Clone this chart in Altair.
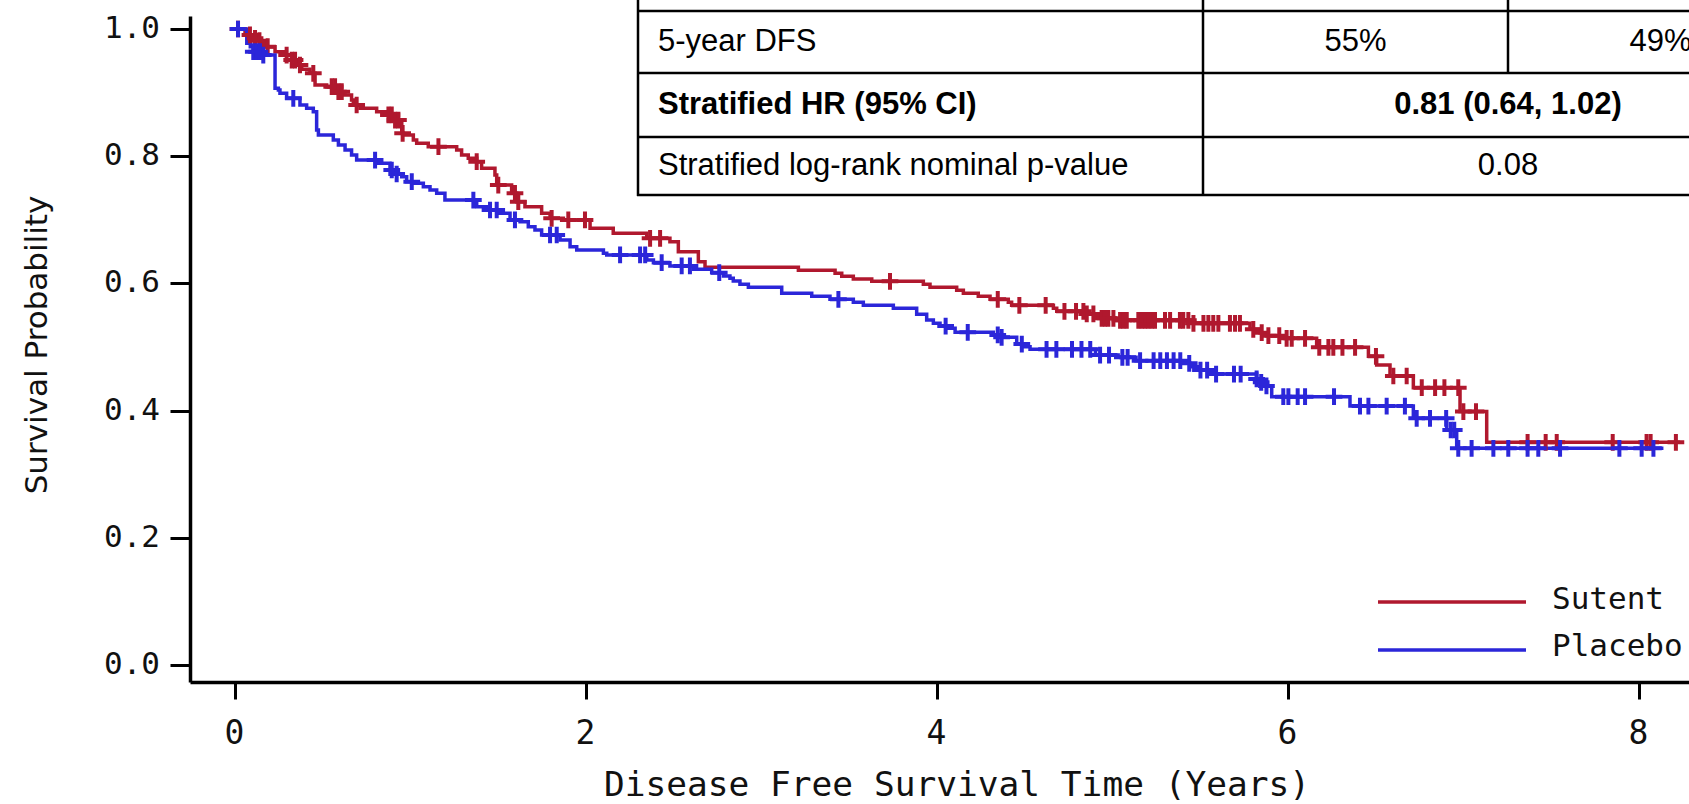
import altair as alt
import pandas as pd
import numpy as np

# ---------------- data ----------------
series_names = ["Sutent", "Placebo"]
series_colors = ["#B0182E", "#2B26D9"]

sutent_time = [0.0, 0.060, 0.107, 0.125, 0.145, 0.185, 0.231, 0.288, 0.326, 0.354,
               0.383, 0.430, 0.459, 0.525, 0.582, 0.620, 0.667, 0.677, 0.715, 0.810,
               0.867, 0.905, 0.953, 0.962, 1.019, 1.038, 1.104, 1.266, 1.294, 1.332,
               1.380, 1.408, 1.484, 1.494, 1.579, 1.608, 1.655, 1.750, 1.798, 1.874,
               2.026, 2.158, 2.349, 2.481, 2.529, 2.643, 2.681, 3.213, 3.422, 3.460,
               3.526, 3.631, 3.925, 3.963, 4.115, 4.153, 4.238, 4.305, 4.409, 4.428,
               4.666, 4.685, 4.856, 4.913, 4.932, 5.017, 5.463, 5.786, 5.843, 5.881,
               5.957, 6.166, 6.461, 6.508, 6.584, 6.717, 6.983, 7.135, 8.237]
sutent_surv = [1.0, 0.9906, 0.9853, 0.9817, 0.9775, 0.9722, 0.9643, 0.9591, 0.9512, 0.9434,
               0.9366, 0.9303, 0.9119, 0.9093, 0.9015, 0.8962, 0.8884, 0.8805, 0.8753, 0.8700,
               0.8648, 0.8569, 0.8359, 0.8333, 0.8255, 0.8202, 0.8150, 0.8097, 0.8019, 0.7966,
               0.7914, 0.7809, 0.7704, 0.7547, 0.7416, 0.7285, 0.7206, 0.7102, 0.7023, 0.6997,
               0.6866, 0.6787, 0.6709, 0.6656, 0.6499, 0.6342, 0.6253, 0.6205, 0.6158, 0.6111,
               0.6069, 0.6033, 0.5986, 0.5939, 0.5892, 0.5845, 0.5797, 0.5750, 0.5703, 0.5656,
               0.5608, 0.5561, 0.5519, 0.5487, 0.5451, 0.5419, 0.5372, 0.5278, 0.5225, 0.5178,
               0.5136, 0.4995, 0.4853, 0.4717, 0.4544, 0.4361, 0.3984, 0.3502, 0.3502]

placebo_time = [0.0, 0.070, 0.090, 0.107, 0.155, 0.231, 0.250, 0.259, 0.297, 0.373,
                0.411, 0.449, 0.468, 0.478, 0.563, 0.592, 0.630, 0.667, 0.696, 0.810,
                0.886, 0.924, 0.953, 0.981, 1.019, 1.076, 1.114, 1.152, 1.199, 1.380,
                1.437, 1.503, 1.570, 1.627, 1.674, 1.712, 1.750, 1.855, 1.912, 1.950,
                2.102, 2.121, 2.349, 2.387, 2.481, 2.614, 2.719, 2.786, 2.823, 2.842,
                2.880, 2.928, 3.118, 3.289, 3.393, 3.526, 3.583, 3.754, 3.887, 3.944,
                3.982, 4.020, 4.058, 4.106, 4.324, 4.371, 4.457, 4.495, 4.533, 4.906,
                5.035, 5.137, 5.406, 5.444, 5.501, 5.558, 5.824, 5.843, 5.872, 5.910,
                6.356, 6.717, 6.907, 6.964, 8.142]
placebo_surv = [1.0, 0.9775, 0.9722, 0.9643, 0.9591, 0.9067, 0.9041, 0.8989, 0.8910, 0.8805,
                0.8753, 0.8700, 0.8412, 0.8333, 0.8255, 0.8176, 0.8097, 0.8019, 0.7940, 0.7888,
                0.7783, 0.7720, 0.7678, 0.7600, 0.7573, 0.7521, 0.7469, 0.7416, 0.7311, 0.7206,
                0.7154, 0.7102, 0.6997, 0.6971, 0.6892, 0.6840, 0.6761, 0.6682, 0.6577, 0.6525,
                0.6473, 0.6447, 0.6368, 0.6326, 0.6274, 0.6221, 0.6169, 0.6116, 0.6080, 0.6038,
                0.5986, 0.5939, 0.5845, 0.5797, 0.5750, 0.5703, 0.5656, 0.5608, 0.5514, 0.5425,
                0.5372, 0.5330, 0.5294, 0.5231, 0.5189, 0.5152, 0.5047, 0.5005, 0.4963, 0.4874,
                0.4838, 0.4785, 0.4743, 0.4690, 0.4638, 0.4575, 0.4497, 0.4444, 0.4387, 0.4219,
                0.4072, 0.3878, 0.3695, 0.3407, 0.3407]

sutent_censor = [0.02, 0.088, 0.117, 0.142, 0.189, 0.297, 0.326, 0.345, 0.373, 0.449,
                 0.554, 0.573, 0.592, 0.611, 0.696, 0.877, 0.896, 0.915, 0.934, 0.958,
                 1.162, 1.380, 1.503, 1.598, 1.617, 1.807, 1.902, 1.997, 2.368, 2.425,
                 3.735, 4.349, 4.472, 4.622, 4.729, 4.795, 4.837, 4.856, 4.894, 4.941,
                 4.960, 4.979, 5.008, 5.046, 5.065, 5.084, 5.150, 5.169, 5.188, 5.207,
                 5.226, 5.245, 5.302, 5.331, 5.387, 5.406, 5.435, 5.464, 5.521, 5.549,
                 5.577, 5.606, 5.672, 5.701, 5.729, 5.805, 5.853, 5.891, 5.953, 5.995,
                 6.024, 6.100, 6.181, 6.233, 6.261, 6.313, 6.385, 6.504, 6.603, 6.679,
                 6.765, 6.841, 6.894, 6.973, 7.002, 7.074, 7.368, 7.471, 7.534, 7.853,
                 8.046, 8.069, 8.213]
placebo_censor = [0.02, 0.107, 0.126, 0.145, 0.164, 0.335, 0.801, 0.896, 0.924, 1.010,
                  1.361, 1.456, 1.494, 1.598, 1.798, 1.836, 2.197, 2.311, 2.340, 2.434,
                  2.548, 2.595, 2.762, 3.441, 4.052, 4.178, 4.349, 4.371, 4.486, 4.627,
                  4.683, 4.772, 4.826, 4.876, 4.932, 4.983, 5.059, 5.089, 5.160, 5.237,
                  5.275, 5.313, 5.351, 5.389, 5.440, 5.504, 5.542, 5.593, 5.695, 5.733,
                  5.824, 5.850, 5.880, 5.976, 6.005, 6.058, 6.100, 6.265, 6.413, 6.461,
                  6.565, 6.669, 6.736, 6.812, 6.904, 6.930, 6.950, 6.973, 7.049, 7.173,
                  7.258, 7.368, 7.429, 7.553, 7.891, 8.018, 8.085]

x_tick_values = [0, 2, 4, 6, 8]
x_tick_labels = ["0", "2", "4", "6", "8"]
y_tick_values = [0.0, 0.2, 0.4, 0.6, 0.8, 1.0]
y_tick_labels = ["0.0", "0.2", "0.4", "0.6", "0.8", "1.0"]

x_title = "Disease Free Survival Time (Years)"
y_title = "Survival Probability"

table_row_labels = ["5-year DFS", "Stratified HR (95% CI)", "Stratified log-rank nominal p-value"]
table_dfs_values = ["55%", "49%"]
table_hr_value = "0.81 (0.64, 1.02)"
table_p_value = "0.08"

# ---------------- frames ----------------
curve_rows = []
for name, ts, ss in [("Sutent", sutent_time, sutent_surv), ("Placebo", placebo_time, placebo_surv)]:
    for t, s in zip(ts, ss):
        curve_rows.append({"t": t, "S": s, "group": name})
curve_df = pd.DataFrame(curve_rows)

cens_rows = []
for name, ts, ss, cl in [("Sutent", sutent_time, sutent_surv, sutent_censor),
                         ("Placebo", placebo_time, placebo_surv, placebo_censor)]:
    ts_a = np.array(ts)
    for c in cl:
        idx = int(np.searchsorted(ts_a, c, side="right")) - 1
        cens_rows.append({"t": c, "S": ss[idx], "group": name})
cens_df = pd.DataFrame(cens_rows)

xs = alt.Scale(domain=[-0.2536, 8.2877], nice=False, zero=False)
ys = alt.Scale(domain=[-0.02673, 1.02044], nice=False, zero=False)
cs = alt.Scale(domain=series_names, range=series_colors)

MONO = "DejaVu Sans Mono"
SANS = "DejaVu Sans"
TXT = "#111111"

x_axis = alt.Axis(values=x_tick_values, labels=False, title=None, grid=False,
                  domainColor="black", domainWidth=3.5, tickColor="black",
                  tickWidth=3, tickSize=17)
y_axis = alt.Axis(values=y_tick_values, labels=False, title=None, grid=False,
                  domainColor="black", domainWidth=3.5, tickColor="black",
                  tickWidth=3, tickSize=20)

lines = alt.Chart(curve_df).mark_line(interpolate="step-after", strokeWidth=3.5).encode(
    x=alt.X("t:Q", scale=xs, axis=x_axis),
    y=alt.Y("S:Q", scale=ys, axis=y_axis),
    color=alt.Color("group:N", scale=cs, legend=None),
)

marks = alt.Chart(cens_df).mark_point(
    shape="M-1,0L1,0M0,-1L0,1", filled=False, size=280, strokeWidth=4, opacity=1
).encode(
    x=alt.X("t:Q", scale=xs),
    y=alt.Y("S:Q", scale=ys),
    color=alt.Color("group:N", scale=cs, legend=None),
)

xlab = alt.Chart(pd.DataFrame({"v": x_tick_values, "lab": x_tick_labels})).mark_text(
    font=MONO, fontSize=33, align="center", baseline="middle", color=TXT
).encode(x=alt.X("v:Q", scale=xs), y=alt.value(718), text="lab:N")

ylab = alt.Chart(pd.DataFrame({"v": y_tick_values, "lab": y_tick_labels})).mark_text(
    font=MONO, fontSize=31, align="right", baseline="middle", color=TXT
).encode(x=alt.value(-30), y=alt.Y("v:Q", scale=ys), text="lab:N")

xtitle = alt.Chart(pd.DataFrame({"a": [0]})).mark_text(
    text=x_title, font=MONO, fontSize=34.5, align="center", baseline="middle", color=TXT
).encode(x=alt.value(767), y=alt.value(770))

ytitle = alt.Chart(pd.DataFrame({"a": [0]})).mark_text(
    text=y_title, font=SANS, fontSize=31, align="center", baseline="middle",
    angle=270, color=TXT
).encode(x=alt.value(-152), y=alt.value(329))

layers = [lines, marks, xlab, ylab, xtitle, ytitle]

# legend (drawn manually)
leg_y = [586, 634]
leg_text_y = [584, 631]
for name, col, ly, ty in zip(series_names, series_colors, leg_y, leg_text_y):
    layers.append(alt.Chart(pd.DataFrame({"a": [0]})).mark_rule(color=col, strokeWidth=3.5).encode(
        x=alt.value(1188), x2=alt.value(1336), y=alt.value(ly)))
    layers.append(alt.Chart(pd.DataFrame({"a": [0]})).mark_text(
        text=name, font=MONO, fontSize=31, align="left",
        baseline="middle", color=TXT).encode(x=alt.value(1362), y=alt.value(ty)))

# table (cut off at the top and right like the reference)
TBL_FONT = "Liberation Sans"
hlines = [-5, 57, 121, 179]
for hy in hlines:
    layers.append(alt.Chart(pd.DataFrame({"a": [0]})).mark_rule(color="black", strokeWidth=2.5).encode(
        x=alt.value(447), x2=alt.value(1700), y=alt.value(hy)))
for vx, vy2 in [(448, 180), (1013, 180), (1318, 57)]:
    layers.append(alt.Chart(pd.DataFrame({"a": [0]})).mark_rule(color="black", strokeWidth=2.5).encode(
        x=alt.value(vx), y=alt.value(-100), y2=alt.value(vy2)))

row_y = [26, 89, 150]
cells = [
    (table_row_labels[0], 468, row_y[0], "left", "normal"),
    (table_dfs_values[0], 1165.5, row_y[0], "center", "normal"),
    (table_dfs_values[1], 1470.5, row_y[0], "center", "normal"),
    (table_row_labels[1], 468, row_y[1], "left", "bold"),
    (table_hr_value, 1318, row_y[1], "center", "bold"),
    (table_row_labels[2], 468, row_y[2], "left", "normal"),
    (table_p_value, 1318, row_y[2], "center", "normal"),
]
for txt, cx, cy, al, fw in cells:
    layers.append(alt.Chart(pd.DataFrame({"a": [0]})).mark_text(
        text=txt, font=TBL_FONT, fontSize=31, align=al,
        baseline="middle", fontWeight=fw, color="black").encode(
        x=alt.value(cx), y=alt.value(cy)))

chart = alt.layer(*layers).properties(
    width=1499, height=666,
    padding={"left": 190, "top": 16, "right": 0, "bottom": 122},
    autosize=alt.AutoSizeParams(type="none"),
    background="white",
).configure_view(stroke=None)

chart.save("out.html", embed_options={"renderer": "svg", "actions": False})
